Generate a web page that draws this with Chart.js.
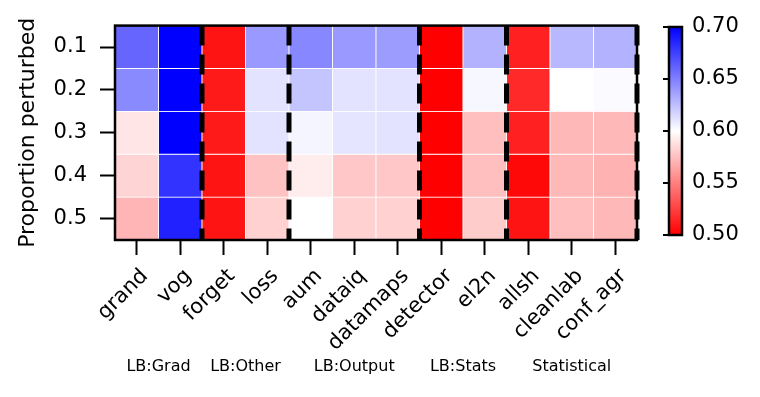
<!DOCTYPE html>
<html><head><meta charset="utf-8">
<script src="https://cdn.jsdelivr.net/npm/chart.js@4"></script>
<style>
html,body{margin:0;padding:0;background:#fff;}
#wrap{position:relative;width:760px;height:397px;overflow:hidden;}
#main{position:absolute;left:0;top:0;}
#cbar{position:absolute;left:640px;top:0;}
</style></head><body>
<div id="wrap"><canvas id="main" width="760" height="397"></canvas><canvas id="cbar" width="120" height="397"></canvas></div>
<script>
// ---- data ----
const methods = ['grand','vog','forget','loss','aum','dataiq','datamaps','detector','el2n','allsh','cleanlab','conf_agr'];
const proportions = [0.1, 0.2, 0.3, 0.4, 0.5];
const row_0_1 = [0.660, 0.700, 0.508, 0.640, 0.647, 0.640, 0.639, 0.500, 0.630, 0.513, 0.628, 0.630];
const row_0_2 = [0.646, 0.700, 0.510, 0.611, 0.623, 0.611, 0.611, 0.500, 0.603, 0.516, 0.600, 0.602];
const row_0_3 = [0.590, 0.700, 0.510, 0.611, 0.604, 0.610, 0.611, 0.500, 0.575, 0.513, 0.572, 0.572];
const row_0_4 = [0.583, 0.680, 0.508, 0.576, 0.593, 0.578, 0.578, 0.500, 0.575, 0.503, 0.572, 0.570];
const row_0_5 = [0.571, 0.687, 0.508, 0.582, 0.600, 0.582, 0.582, 0.500, 0.580, 0.508, 0.575, 0.572];
const groupNames = ['LB:Grad', 'LB:Other', 'LB:Output', 'LB:Stats', 'Statistical'];
const groupSizes = [2, 2, 3, 2, 3];
const colorbarTicks = [0.50, 0.55, 0.60, 0.65, 0.70];
const vmin = 0.5, vmax = 0.7;

const rows = [row_0_1, row_0_2, row_0_3, row_0_4, row_0_5];
const rowStep = proportions[1] - proportions[0];

Chart.defaults.font.family = '"DejaVu Sans", sans-serif';
Chart.defaults.color = '#000';

// bwr_r colormap: red (low) -> white -> blue (high)
function colorFor(v) {
  let t = (v - vmin) / (vmax - vmin);
  t = Math.max(0, Math.min(1, t));
  if (t < 0.5) {
    const g = Math.round(255 * t * 2);
    return `rgb(255,${g},${g})`;
  }
  const b = Math.round(255 * (1 - t) * 2);
  return `rgb(${b},${b},255)`;
}

const datasets = proportions.map((p, r) => ({
  label: p.toFixed(1),
  data: rows[r].map(() => [p - rowStep / 2, p + rowStep / 2]),
  backgroundColor: rows[r].map(colorFor),
  borderColor: '#ffffff',
  borderWidth: 0.8,
  borderSkipped: false,
  grouped: false,
  barPercentage: 1,
  categoryPercentage: 1
}));

const heatDecor = {
  id: 'heatDecor',
  afterDatasetsDraw(chart) {
    const {ctx, chartArea: ca, scales: {x}} = chart;
    ctx.save();
    let idx = 0;
    ctx.strokeStyle = '#000';
    ctx.lineWidth = 5;
    ctx.setLineDash([20, 9]);
    groupSizes.forEach(n => {
      idx += n;
      const px = x.getPixelForValue(idx - 0.5);
      ctx.beginPath();
      ctx.moveTo(px, ca.top);
      ctx.lineTo(px, ca.bottom);
      ctx.stroke();
    });
    ctx.setLineDash([]);
    ctx.lineWidth = 2.5;
    ctx.strokeRect(ca.left, ca.top, ca.right - ca.left, ca.bottom - ca.top);
    ctx.fillStyle = '#000';
    ctx.font = '16px "DejaVu Sans"';
    ctx.textAlign = 'center';
    ctx.textBaseline = 'middle';
    let start = 0;
    groupSizes.forEach((n, g) => {
      const cx = (x.getPixelForValue(start) + x.getPixelForValue(start + n - 1)) / 2;
      ctx.fillText(groupNames[g], cx, 367);
      start += n;
    });
    ctx.restore();
  }
};

new Chart(document.getElementById('main'), {
  type: 'bar',
  data: {labels: methods, datasets},
  options: {
    responsive: false,
    animation: false,
    devicePixelRatio: 1,
    layout: {padding: {left: 0, top: 21, right: 123, bottom: 0}},
    plugins: {legend: {display: false}, tooltip: {enabled: false}},
    scales: {
      x: {
        type: 'category',
        offset: true,
        grid: {offset: false, drawOnChartArea: false, drawTicks: true, tickLength: 15, tickWidth: 2, tickColor: '#000', color: '#000'},
        border: {display: false},
        ticks: {autoSkip: false, minRotation: 45, maxRotation: 45, font: {size: 21}, color: '#000', padding: 9, labelOffset: 8},
        afterFit(s) { s.height = 157; }
      },
      y: {
        type: 'linear',
        reverse: true,
        min: proportions[0] - rowStep / 2,
        max: proportions[proportions.length - 1] + rowStep / 2,
        afterBuildTicks(s) { s.ticks = proportions.map(v => ({value: v})); },
        grid: {drawOnChartArea: false, drawTicks: true, tickLength: 15, tickWidth: 2, tickColor: '#000', color: '#000'},
        border: {display: false},
        ticks: {font: {size: 21}, color: '#000', padding: 13, callback: v => Number(v).toFixed(1)},
        title: {display: true, text: 'Proportion perturbed', font: {size: 22}, color: '#000', padding: {top: 15, bottom: 0}},
        afterFit(s) { s.width = 115; }
      }
    }
  },
  plugins: [heatDecor]
});

// ---- colorbar ----
const cbarDecor = {
  id: 'cbarDecor',
  afterDatasetsDraw(chart) {
    const {ctx, chartArea: ca, scales: {y}} = chart;
    ctx.save();
    ctx.strokeStyle = '#000';
    ctx.lineWidth = 2;
    y.ticks.forEach(t => {
      const py = y.getPixelForValue(t.value);
      ctx.beginPath();
      ctx.moveTo(ca.left - 6, py);
      ctx.lineTo(ca.left, py);
      ctx.stroke();
    });
    ctx.lineWidth = 2.5;
    ctx.strokeRect(ca.left, ca.top, ca.right - ca.left, ca.bottom - ca.top);
    ctx.restore();
  }
};

new Chart(document.getElementById('cbar'), {
  type: 'bar',
  data: {
    labels: [''],
    datasets: [{
      data: [[vmin, vmax]],
      backgroundColor(c) {
        const chart = c.chart;
        const y = chart.scales.y;
        if (!y || !chart.chartArea) return '#fff';
        const g = chart.ctx.createLinearGradient(0, y.getPixelForValue(vmin), 0, y.getPixelForValue(vmax));
        g.addColorStop(0, colorFor(vmin));
        g.addColorStop(0.5, colorFor((vmin + vmax) / 2));
        g.addColorStop(1, colorFor(vmax));
        return g;
      },
      borderWidth: 0,
      barPercentage: 1,
      categoryPercentage: 1
    }]
  },
  options: {
    responsive: false,
    animation: false,
    devicePixelRatio: 1,
    layout: {padding: {left: 29, top: 27, right: 0, bottom: 162}},
    plugins: {legend: {display: false}, tooltip: {enabled: false}},
    scales: {
      x: {display: false},
      y: {
        position: 'right',
        min: vmin,
        max: vmax,
        afterBuildTicks(s) { s.ticks = colorbarTicks.map(v => ({value: v})); },
        grid: {display: false, drawTicks: false},
        border: {display: false},
        ticks: {font: {size: 21}, color: '#000', padding: 10, callback: v => Number(v).toFixed(2)},
        afterFit(s) { s.width = 78; }
      }
    }
  },
  plugins: [cbarDecor]
});
</script>
</body></html>
